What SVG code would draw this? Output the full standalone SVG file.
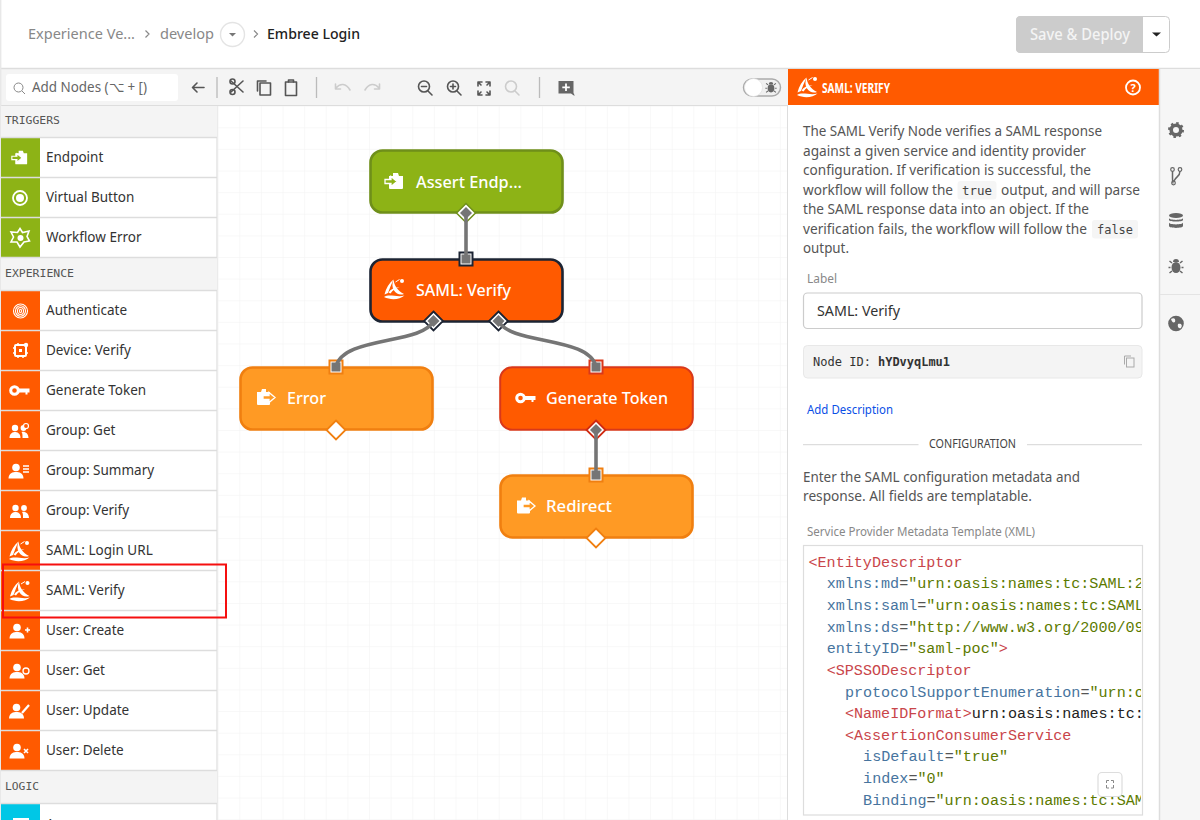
<svg xmlns="http://www.w3.org/2000/svg" width="1200" height="820" viewBox="0 0 1200 820">
<style>
text{font-family:"Noto Sans","Open Sans","Liberation Sans",sans-serif}
.row{font-size:13.5px;fill:#333}
.sec{font-family:"DejaVu Sans Mono","Liberation Mono",monospace;font-size:10.5px;fill:#555}
.d{font-size:14px;fill:#555}
.lab{font-size:12px;fill:#888}
.nt{font-size:17px;fill:#fff;font-weight:500}
.ln{stroke:#ddd;stroke-width:1.5;fill:none}
.ic{fill:none;stroke:#555;stroke-width:1.6;stroke-linecap:round;stroke-linejoin:round}
.icl{fill:none;stroke:#ccc;stroke-width:1.6;stroke-linecap:round;stroke-linejoin:round}
.sep{stroke:#bbb;stroke-width:1.3}
.x{font-family:"Liberation Mono",monospace;font-size:15.1px;fill:#555}
.t{fill:#c9454a}.a{fill:#47749e}.s{fill:#5c7a00}.b{fill:#222}
.mono{font-family:"DejaVu Sans Mono","Liberation Mono",monospace;font-size:12.5px;fill:#333}
.code{font-family:"DejaVu Sans Mono","Liberation Mono",monospace;font-size:12.5px;fill:#444}
.conn{fill:none;stroke:#757575;stroke-width:3.6}
.core{fill:#757575}
.node{stroke-width:2.6}
.wi{color:#8db316}
.oo{color:#ff9a24}
</style>
<defs>
<pattern id="grid" x="239.3" y="127.3" width="21.62" height="21.62" patternUnits="userSpaceOnUse"><path d="M0 0H21.62M0 0V21.62" fill="none" stroke="#f2f2f2" stroke-width="1"/></pattern>
<clipPath id="codeclip"><rect x="804" y="546" width="337" height="269"/></clipPath>
<g id="i-in"><path d="M-5-5H-1V-8H4L5-5H9V7Q9 8 8 8H-4Q-5 8-5 7Z" fill="#fff"/><path d="M-9-1.500H-3V-4.500L3 .5-3 5.500V2.500H-9Z" fill="currentColor" stroke="#fff" stroke-width="1.300"/></g>
<g id="i-out"><path d="M-9-5H-5L-4-8H0V-5H4V7Q4 8 3 8H-8Q-9 8-9 7Z" fill="#fff"/><path d="M-3-1.500H3V-4.500L9 .5 3 5.500V2.500H-3Z" fill="currentColor" stroke="#fff" stroke-width="1.300"/></g>
<g id="i-saml" fill="#fff"><path d="M-10 5.500C-8.500-.5-5.500-6-1-9.500-3-5-5-.5-6.500 4Z"/><path d="M-1-9.500C-.5-4 3 2 9.500 5 5.500 6.500 2 5 -.5 1.500-2.500-1.500-2.500-6-1-9.500Z"/><path d="M-10.500 8C-5 4.500 3 9 10 6.500 5.500 10.500-3.500 11.500-10.500 8Z"/><path d="M-6 3.500C-3.500-.5 1-2 5-1.500 1.500-.5-2 1-4 4.500Z"/><circle cx="7.500" cy="-8" r="2" /><path d="M1-7L5-9.500" stroke="#fff" stroke-width="1"/></g>
<g id="i-key"><path d="M-2-2H9.500V2H7.500V4H5.500V2H-2Z" fill="#fff"/><circle cx="-5.500" cy="0" r="3.800" fill="none" stroke="#fff" stroke-width="3"/></g>
<g id="i-user"><circle cx="-2" cy="-3.500" r="3.800" fill="#fff"/><path d="M-9.500 7.500C-9.500 2-5 1-2 1S5.500 2 5.500 7.500Z" fill="#fff"/></g>
<g id="i-group"><circle cx="-4" cy="-3" r="3.200" fill="#fff"/><path d="M-9.500 7C-9.500 2-6 1-4 1S1.500 2 1.500 7Z" fill="#fff"/><circle cx="4.500" cy="-3" r="2.900" fill="#fff"/><path d="M2.500 1C5.500 0 9.500 2 9.500 7H3.500C3.500 4 3.500 2 2.500 1Z" fill="#fff"/></g>
<g id="i-bug" fill="#666"><ellipse cx="0" cy="1" rx="4.500" ry="5.500"/><path d="M-3-4.500A3 3 0 0 1 3-4.500Z"/><path d="M-4-3.500L-6.500-5.500M4-3.500L6.500-5.500M-5.500 1H-7.500M5.500 1H7.500M-4 4.500L-6.500 6.500M4 4.500L6.500 6.500" stroke="#666" stroke-width="1.500" fill="none"/></g>
</defs>

<rect width="1200" height="820" fill="#fff"/>

<g id="header">
<text x="28" y="39" font-size="15" fill="#888" textLength="107" lengthAdjust="spacingAndGlyphs">Experience Ve...</text>
<path d="M145.500 30.500L149 34 145.500 37.500M254 30.500L257.500 34 254 37.500" fill="none" stroke="#888" stroke-width="1.200"/>
<text x="160" y="39" font-size="15" fill="#888" textLength="54" lengthAdjust="spacingAndGlyphs">develop</text>
<circle cx="232.500" cy="34.500" r="12" fill="#fff" stroke="#e4e4e4" stroke-width="1.400"/>
<path d="M229 33H236L232.500 36.500Z" fill="#777"/>
<text x="267" y="39" font-size="15" fill="#222" font-weight="500" textLength="93" lengthAdjust="spacingAndGlyphs">Embree Login</text>
<rect x="1016.500" y="16.500" width="153" height="36" rx="4" fill="#fff" stroke="#ccc"/>
<path d="M1020.500 16H1143V53H1020.500A4 4 0 0 1 1016 49V20A4 4 0 0 1 1020.500 16Z" fill="#ccc"/>
<text x="1030" y="39.500" font-size="15.500" font-weight="500" fill="#f4f4f4" textLength="100" lengthAdjust="spacingAndGlyphs">Save &amp; Deploy</text>
<path d="M1152 32.500H1161L1156.500 36.500Z" fill="#222"/>
</g>

<g id="toolbar">
<rect x="0" y="69" width="788" height="36.500" fill="#f4f4f4"/>
<path d="M0 68.500H1200" stroke="#ddd" stroke-width="1.500"/>
<path d="M0 105.500H788" stroke="#ddd" stroke-width="1.200"/>
<rect x="6" y="74" width="172" height="27" rx="3" fill="#fff"/>
<circle cx="18.500" cy="87.500" r="4.500" fill="none" stroke="#888" stroke-width="1"/><path d="M22 91L25 94" stroke="#888"/>
<text x="32" y="92" font-size="14" fill="#666" textLength="115" lengthAdjust="spacingAndGlyphs">Add Nodes (⌥ + [)</text>
<path class="ic" d="M204 87.500H193M197 83L192.500 87.500 197 92"/>
<path class="sep" d="M217 77V98M316.500 77V98M539.500 77V98"/>
<path class="ic" d="M231 81L243 92M243 81L231 92"/><circle class="ic" cx="232.500" cy="92" r="2.500"/><circle class="ic" cx="232.500" cy="81.500" r="2.500"/>
<rect class="ic" x="260" y="83" width="10.500" height="12"/><path class="ic" d="M257.500 91V81H266"/>
<rect class="ic" x="285.500" y="82" width="11" height="13.500"/><path class="ic" d="M288.500 82V80H293.500V82"/>
<path class="icl" d="M336 88C340 83 346 83 350 90M335.500 84V89H340.500"/>
<path class="icl" d="M379 88C375 83 369 83 365 90M379.500 84V89H374.500"/>
<circle class="ic" cx="424" cy="86.500" r="5.500"/><path class="ic" d="M428 91L432 95M421.500 86.500H426.500"/>
<circle class="ic" cx="453" cy="86.500" r="5.500"/><path class="ic" d="M457 91L461 95M450.500 86.500H455.500M453 84V89"/>
<path class="ic" d="M478 82H482M478 82V86M478 82L481 85M490 82H486M490 82V86M490 82L487 85M478 95H482M478 95V91M478 95L481 92M490 95H486M490 95V91M490 95L487 92"/>
<circle class="icl" cx="511" cy="86.500" r="5.500"/><path class="icl" d="M515 91L519 95"/>
<path d="M558.500 81H573.500V93.500H574L574.500 96 571 93.500H558.500Z" fill="#666"/><path d="M566 83.500V91M562.300 87.300H569.800" stroke="#fff" stroke-width="1.800"/>
<rect x="743.500" y="79" width="37" height="17" rx="8.500" fill="#f0f0f0" stroke="#aaa" stroke-width="1.500"/>
<circle cx="753.500" cy="87.500" r="9" fill="#fff" stroke="#ddd" stroke-width=".6"/>
<use href="#i-bug" transform="translate(771 87.500) scale(.75)"/>
</g>

<g id="canvas">
<rect x="218" y="106" width="570" height="714" fill="#fff"/>
<rect x="218" y="106" width="570" height="714" fill="url(#grid)"/>
</g>

<g id="sidebar">
<rect x="0" y="106" width="217" height="714" fill="#fff"/>
<path d="M.7 0V820" stroke="#e8e8e8" stroke-width="1.400"/>
<path d="M217 106V820" stroke="#e4e4e4" stroke-width="1.500"/>
<rect x="1" y="106" width="216" height="31.500" fill="#f4f4f4"/>
<rect x="1" y="258" width="216" height="32" fill="#f4f4f4"/>
<rect x="1" y="771" width="216" height="32" fill="#f4f4f4"/>
<text class="sec" x="5" y="124" textLength="55" lengthAdjust="spacingAndGlyphs">TRIGGERS</text>
<text class="sec" x="5" y="277" textLength="69" lengthAdjust="spacingAndGlyphs">EXPERIENCE</text>
<text class="sec" x="5" y="790" textLength="34" lengthAdjust="spacingAndGlyphs">LOGIC</text>
<rect x="1" y="138" width="39" height="119" fill="#8db316"/>
<rect x="1" y="291" width="39" height="479" fill="#ff5a00"/>
<rect x="1" y="804" width="39" height="16" fill="#00c7e6"/>
<rect x="13" y="818" width="16" height="2" fill="#fff"/>
<path class="ln" d="M1 137.500H217M1 177.500H217M1 217.500H217M1 257.500H217M1 290.500H217M1 330.500H217M1 370.500H217M1 410.500H217M1 450.500H217M1 490.500H217M1 530.500H217M1 570.500H217M1 610.500H217M1 650.500H217M1 690.500H217M1 730.500H217M1 770.500H217M1 803.500H217"/>
<g id="item-endpoint"><use href="#i-in" class="wi" transform="translate(19.500 157.500) scale(.85)"/><text class="row" x="46" y="162">Endpoint</text></g>
<g id="item-virtual-button"><circle cx="20" cy="198" r="7" fill="none" stroke="#fff" stroke-width="1.800"/><circle cx="20" cy="198" r="4" fill="#fff"/><text class="row" x="46" y="202">Virtual Button</text></g>
<g id="item-workflow-error"><path d="M20 228.500L22.500 232.500 29 231 27 236.500 29.500 241 24 242 20 247 17 242 11 242 13.500 237 11 232 17.500 232.500Z" fill="none" stroke="#fff" stroke-width="1.600"/><circle cx="20.500" cy="238" r="3" fill="#fff"/><text class="row" x="46" y="242">Workflow Error</text></g>
<g id="item-authenticate" fill="none" stroke="#fff" stroke-width="1.100"><circle cx="20.500" cy="311" r="7"/><ellipse cx="20.500" cy="311" rx="5" ry="5.300"/><ellipse cx="20.500" cy="311" rx="3" ry="3.500"/><ellipse cx="20.500" cy="311" rx="1" ry="1.800"/><text class="row" x="46" y="315" stroke="none">Authenticate</text></g>
<g id="item-device-verify"><rect x="15" y="345" width="11" height="11" rx="1" fill="none" stroke="#fff" stroke-width="2"/><path d="M13 348H15M13 353H15M26 353H28M18 343V345M23 356V358M18 356V358" stroke="#fff" stroke-width="1.500"/><rect x="19" y="349" width="3" height="3" fill="#fff"/><circle cx="26" cy="345" r="2.200" fill="#fff"/><text class="row" x="46" y="355">Device: Verify</text></g>
<g id="item-generate-token"><use href="#i-key" transform="translate(20 390.500)"/><text class="row" x="46" y="395">Generate Token</text></g>
<g id="item-group-get"><use href="#i-group" transform="translate(19 431)"/><circle cx="26" cy="426" r="2.500" fill="#ff5a00" stroke="#fff" stroke-width="1.200"/><text class="row" x="46" y="435">Group: Get</text></g>
<g id="item-group-summary"><use href="#i-user" transform="translate(18 471)"/><path d="M23 466H29M23 469H29M23 472H29" stroke="#fff" stroke-width="1.500"/><text class="row" x="46" y="475">Group: Summary</text></g>
<g id="item-group-verify"><use href="#i-group" transform="translate(19.500 511)"/><text class="row" x="46" y="515">Group: Verify</text></g>
<g id="item-saml-login"><use href="#i-saml" transform="translate(19.500 551)"/><text class="row" x="46" y="555">SAML: Login URL</text></g>
<g id="item-saml-verify"><use href="#i-saml" transform="translate(20 591)"/><text class="row" x="46" y="595">SAML: Verify</text></g>
<g id="item-user-create"><use href="#i-user" transform="translate(19 631)"/><path d="M25 630H30M27.500 627.500V632.500" stroke="#fff" stroke-width="1.600"/><text class="row" x="46" y="635">User: Create</text></g>
<g id="item-user-get"><use href="#i-user" transform="translate(19 671)"/><circle cx="26" cy="671" r="3" fill="#ff5a00" stroke="#fff" stroke-width="1.300"/><text class="row" x="46" y="675">User: Get</text></g>
<g id="item-user-update"><use href="#i-user" transform="translate(18.500 711)"/><path d="M22 713L29 705" stroke="#fff" stroke-width="2.200"/><text class="row" x="46" y="715">User: Update</text></g>
<g id="item-user-delete"><use href="#i-user" transform="translate(19 751)"/><path d="M24 749L28 753M28 749L24 753" stroke="#fff" stroke-width="1.600"/><text class="row" x="46" y="755">User: Delete</text></g>
<g id="item-array"><text class="row" x="46" y="829">Array</text></g>
<rect id="highlight" x="3" y="564.500" width="223" height="53" fill="none" stroke="#f50f0f" stroke-width="2"/>
</g>

<g id="node-assert">
<rect class="node" x="370.500" y="150.500" width="192" height="62" rx="12" fill="#8db316" stroke="#6f8f1a"/>
<use href="#i-in" class="wi" transform="translate(394 181)"/>
<text class="nt" x="416" y="187.500" textLength="106" lengthAdjust="spacingAndGlyphs">Assert Endp...</text>
<path d="M466 203.500L475.500 213 466 222.500 456.500 213Z" fill="#fff" stroke="#6f8f1a" stroke-width="1.500"/><path class="core" d="M466 207L472 213 466 219 460 213Z"/>
</g>
<g id="node-saml-verify">
<rect class="node" x="370.500" y="259.500" width="192" height="62" rx="12" fill="#ff5a00" stroke="#1c2433"/>
<use href="#i-saml" transform="translate(394.500 289)"/>
<text class="nt" x="416" y="295.500" textLength="95" lengthAdjust="spacingAndGlyphs">SAML: Verify</text>
<rect x="459.500" y="252.500" width="13" height="13" fill="#fff" stroke="#1c2433" stroke-width="2"/><rect class="core" x="461.500" y="254.500" width="9" height="9"/>
<path d="M433.500 311.500L443 321 433.500 330.500 424 321Z" fill="#fff" stroke="#1c2433" stroke-width="1.800"/><path class="core" d="M433.500 315L439.500 321 433.500 327 427.500 321Z"/>
<path d="M498.500 311.500L508 321 498.500 330.500 489 321Z" fill="#fff" stroke="#1c2433" stroke-width="1.800"/><path class="core" d="M498.500 315L504.500 321 498.500 327 492.500 321Z"/>
</g>
<g id="node-error">
<rect class="node" x="240.500" y="367.500" width="192" height="62" rx="12" fill="#ff9a24" stroke="#f07f10"/>
<use href="#i-out" class="oo" transform="translate(266 397)"/>
<text class="nt" x="287" y="403.500" textLength="39" lengthAdjust="spacingAndGlyphs">Error</text>
<rect x="329.500" y="360.500" width="13" height="13" fill="#fff" stroke="#f07f10" stroke-width="2"/><rect class="core" x="331.500" y="362.500" width="9" height="9"/>
<path d="M336 420.500L345.500 430 336 439.500 326.500 430Z" fill="#fff" stroke="#f07f10" stroke-width="1.800"/>
</g>
<g id="node-generate-token">
<rect x="500.200" y="367.200" width="192.600" height="62.600" rx="12" fill="#ff5a00" stroke="#d9381a" stroke-width="2"/>
<use href="#i-key" transform="translate(526 398)"/>
<text class="nt" x="546" y="403.500" textLength="122" lengthAdjust="spacingAndGlyphs">Generate Token</text>
<rect x="589.500" y="360.500" width="13" height="13" fill="#fff" stroke="#d9381a" stroke-width="2"/><rect class="core" x="591.500" y="362.500" width="9" height="9"/>
<path d="M596 420.500L605.500 430 596 439.500 586.500 430Z" fill="#fff" stroke="#cf2a12" stroke-width="1.800"/><path class="core" d="M596 424L602 430 596 436 590 430Z"/>
</g>
<g id="node-redirect">
<rect class="node" x="500.500" y="475.500" width="192" height="62" rx="12" fill="#ff9a24" stroke="#f07f10"/>
<use href="#i-out" class="oo" transform="translate(526 505.500)"/>
<text class="nt" x="546" y="511.500" textLength="66" lengthAdjust="spacingAndGlyphs">Redirect</text>
<rect x="589.500" y="468.500" width="13" height="13" fill="#fff" stroke="#f07f10" stroke-width="2"/><rect class="core" x="591.500" y="470.500" width="9" height="9"/>
<path d="M596 528.500L605.500 538 596 547.500 586.500 538Z" fill="#fff" stroke="#f07f10" stroke-width="1.800"/>
</g>

<g id="connectors">
<path class="conn" d="M466 213V259"/>
<path class="conn" d="M433.500 321C422 345 342 336 336 367"/>
<path class="conn" d="M498.500 321C510 345 590 336 596 367"/>
<path class="conn" d="M596 430V475"/>
</g>

<g id="panel">
<rect x="788" y="69" width="371" height="751" fill="#fff"/>
<path d="M787.500 105V820" stroke="#ddd"/>
<rect x="788" y="69" width="371" height="36" fill="#ff5a00"/>
<use href="#i-saml" transform="translate(807.500 87)"/>
<text x="822" y="92.500" font-size="13.500" font-weight="700" fill="#fff" textLength="68" lengthAdjust="spacingAndGlyphs">SAML: VERIFY</text>
<circle cx="1133" cy="87.500" r="7" fill="none" stroke="#fff" stroke-width="1.800"/>
<text x="1133" y="91.500" font-size="11" font-weight="700" fill="#fff" text-anchor="middle">?</text>
<text class="d" x="803" y="136" textLength="299" lengthAdjust="spacingAndGlyphs">The SAML Verify Node verifies a SAML response</text>
<text class="d" x="803" y="156" textLength="283" lengthAdjust="spacingAndGlyphs">against a given service and identity provider</text>
<text class="d" x="803" y="175" textLength="288" lengthAdjust="spacingAndGlyphs">configuration. If verification is successful, the</text>
<text class="d" x="803" y="195" textLength="150" lengthAdjust="spacingAndGlyphs">workflow will follow the</text>
<rect x="957.500" y="181" width="39" height="18.500" rx="3" fill="#f5f5f5"/>
<text class="code" x="962" y="195" textLength="30" lengthAdjust="spacingAndGlyphs">true</text>
<text class="d" x="1001" y="195" textLength="139" lengthAdjust="spacingAndGlyphs">output, and will parse</text>
<text class="d" x="803" y="214" textLength="286" lengthAdjust="spacingAndGlyphs">the SAML response data into an object. If the</text>
<text class="d" x="803" y="234" textLength="284" lengthAdjust="spacingAndGlyphs">verification fails, the workflow will follow the</text>
<rect x="1092" y="220" width="46" height="18.500" rx="3" fill="#f5f5f5"/>
<text class="code" x="1097" y="234" textLength="36" lengthAdjust="spacingAndGlyphs">false</text>
<text class="d" x="803" y="253" textLength="46" lengthAdjust="spacingAndGlyphs">output.</text>
<text class="lab" x="807" y="282.500" textLength="30" lengthAdjust="spacingAndGlyphs">Label</text>
<rect x="803.500" y="293" width="338.500" height="35.500" rx="4" fill="#fff" stroke="#ccc" stroke-width="1.200"/>
<text x="817" y="316" font-size="15" fill="#333" textLength="83" lengthAdjust="spacingAndGlyphs">SAML: Verify</text>
<rect x="803.500" y="345.500" width="338.500" height="32.500" rx="4" fill="#f4f4f4" stroke="#e8e8e8"/>
<text class="mono" x="813" y="366" textLength="58" lengthAdjust="spacingAndGlyphs">Node ID:</text>
<text class="mono" x="878" y="366" font-weight="700" textLength="72" lengthAdjust="spacingAndGlyphs">hYDvyqLmu1</text>
<rect x="1126.500" y="358" width="7.500" height="9" fill="none" stroke="#aaa"/><path d="M1124.500 364.500V356H1131" fill="none" stroke="#aaa"/>
<text x="807" y="413.500" font-size="12" fill="#0a4fe6" textLength="86" lengthAdjust="spacingAndGlyphs">Add Description</text>
<path d="M803 444.700H918.500M1027 444.700H1142" stroke="#ddd" stroke-width="1.200"/>
<text x="929" y="448" font-size="12" fill="#444" textLength="87" lengthAdjust="spacingAndGlyphs">CONFIGURATION</text>
<text class="d" x="803" y="481.500" textLength="277" lengthAdjust="spacingAndGlyphs">Enter the SAML configuration metadata and</text>
<text class="d" x="803" y="501" textLength="229" lengthAdjust="spacingAndGlyphs">response. All fields are templatable.</text>
<text class="lab" x="807" y="535.500" textLength="228" lengthAdjust="spacingAndGlyphs">Service Provider Metadata Template (XML)</text>
<rect x="803.500" y="545.500" width="339" height="269.500" fill="#fff" stroke="#ddd" stroke-width="1.200"/>
<g clip-path="url(#codeclip)">
<text class="x" x="808.500" y="566.500"><tspan class="t">&lt;EntityDescriptor</tspan></text>
<text class="x" x="826.700" y="588.300"><tspan class="a">xmlns:md</tspan>=<tspan class="s">"urn:oasis:names:tc:SAML:2.0</tspan></text>
<text class="x" x="826.700" y="610"><tspan class="a">xmlns:saml</tspan>=<tspan class="s">"urn:oasis:names:tc:SAML:2.0</tspan></text>
<text class="x" x="826.700" y="631.600"><tspan class="a">xmlns:ds</tspan>=<tspan class="s">"http://www.w3.org/2000/09/</tspan></text>
<text class="x" x="826.700" y="653.300"><tspan class="a">entityID</tspan>=<tspan class="s">"saml-poc"</tspan><tspan class="t">&gt;</tspan></text>
<text class="x" x="826.700" y="675"><tspan class="t">&lt;SPSSODescriptor</tspan></text>
<text class="x" x="844.900" y="696.600"><tspan class="a">protocolSupportEnumeration</tspan>=<tspan class="s">"urn:oasis</tspan></text>
<text class="x" x="844.900" y="718.200"><tspan class="t">&lt;NameIDFormat&gt;</tspan><tspan class="b">urn:oasis:names:tc:SAML</tspan></text>
<text class="x" x="844.900" y="739.800"><tspan class="t">&lt;AssertionConsumerService</tspan></text>
<text class="x" x="863.100" y="761.400"><tspan class="a">isDefault</tspan>=<tspan class="s">"true"</tspan></text>
<text class="x" x="863.100" y="783"><tspan class="a">index</tspan>=<tspan class="s">"0"</tspan></text>
<text class="x" x="863.100" y="804.600"><tspan class="a">Binding</tspan>=<tspan class="s">"urn:oasis:names:tc:SAML</tspan></text>
</g>
<rect x="1098" y="772.500" width="24" height="24" rx="4" fill="#fff" stroke="#ddd" stroke-width="1.200"/>
<path d="M1106.500 783V780.500H1109M1111 780.500H1113.500V783M1113.500 785V788H1111M1109 788H1106.500V785" fill="none" stroke="#888"/>
</g>

<g id="side-tabs">
<rect x="1159" y="69" width="41" height="751" fill="#f6f6f6"/>
<path d="M1159.500 69V820" stroke="#ddd" stroke-width="1.500"/>
<path d="M1160 294.500H1200" stroke="#e4e4e4" stroke-width="1.200"/>
<circle cx="1176" cy="130" r="4.800" fill="none" stroke="#666" stroke-width="3.600"/><circle cx="1176" cy="130" r="7" fill="none" stroke="#666" stroke-width="2" stroke-dasharray="2.500 3"/>
<path d="M1172.500 171V178C1172.500 181 1173 183 1173.500 183M1180 171C1180 177 1176 176 1174 181" fill="none" stroke="#666" stroke-width="1.500"/><circle cx="1172.500" cy="169.500" r="1.800" fill="none" stroke="#666" stroke-width="1.200"/><circle cx="1180" cy="169.500" r="1.800" fill="none" stroke="#666" stroke-width="1.200"/><circle cx="1173.500" cy="183" r="1.800" fill="none" stroke="#666" stroke-width="1.200"/>
<ellipse cx="1176" cy="215.500" rx="7" ry="2.500" fill="#666"/><path d="M1169 218V220C1169 222 1183 222 1183 220V218C1183 220.500 1169 220.500 1169 218ZM1169 222.500V226C1169 228.500 1183 228.500 1183 226V222.500C1183 225 1169 225 1169 222.500Z" fill="#666"/>
<use href="#i-bug" transform="translate(1176 266.500)"/>
<circle cx="1176" cy="323.500" r="7.800" fill="#666"/><path d="M1171 319C1174 317 1176 319 1175 322 1173 323 1172 322 1171 319ZM1178 324C1181 323 1183 325 1181 328 1179 329 1177 327 1178 324Z" fill="#f6f6f6"/>
</g>
</svg>
